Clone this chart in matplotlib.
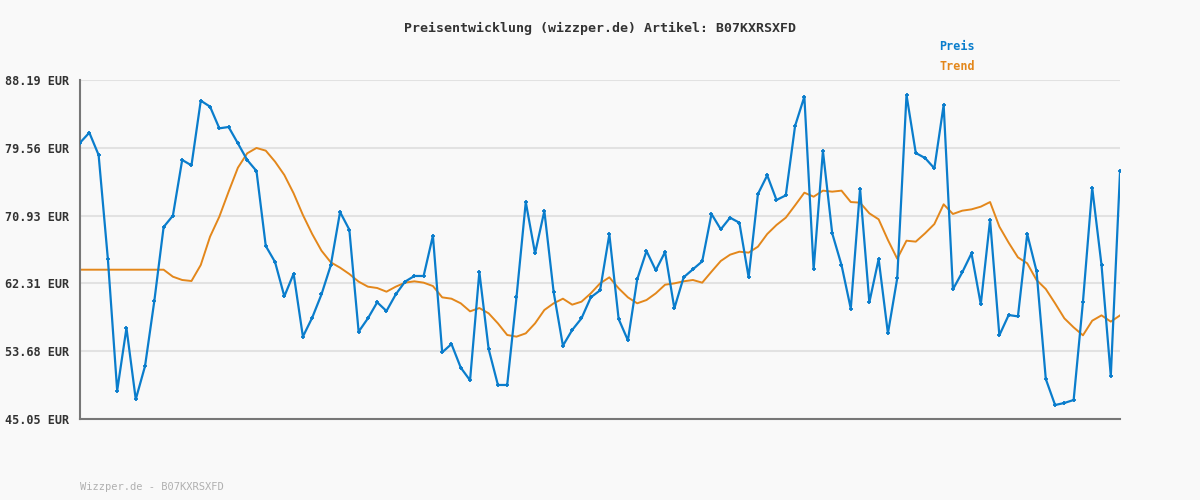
import matplotlib
matplotlib.use("Agg")
import matplotlib.pyplot as plt

# price readings (EUR), one per sample
preis = [80.21, 81.49, 78.65, 65.37, 48.66, 56.63, 47.55, 51.79, 60.07, 69.48,
         70.93, 78.01, 77.33, 85.56, 84.80, 82.04, 82.21, 80.13, 78.01, 76.61,
         67.07, 65.03, 60.66, 63.54, 55.53, 57.94, 60.91, 64.60, 71.39, 69.14,
         56.16, 57.86, 59.90, 58.79, 60.91, 62.53, 63.25, 63.25, 68.38, 53.53,
         54.59, 51.58, 49.97, 63.76, 53.96, 49.38, 49.38, 60.53, 72.66, 66.13,
         71.52, 61.21, 54.38, 56.38, 57.86, 60.53, 61.42, 68.55, 57.78, 55.06,
         62.82, 66.43, 63.97, 66.30, 59.13, 63.08, 64.10, 65.11, 71.14, 69.19,
         70.67, 70.03, 63.08, 73.68, 76.06, 72.92, 73.51, 82.34, 86.07, 64.10,
         79.15, 68.68, 64.65, 59.09, 74.36, 59.90, 65.41, 55.95, 62.95, 86.28,
         78.90, 78.26, 76.95, 85.01, 61.55, 63.71, 66.13, 59.64, 70.37, 55.70,
         58.28, 58.11, 68.59, 63.88, 50.14, 46.83, 47.09, 47.47, 59.94, 74.45,
         64.65, 50.52, 76.65]

trend = [64.05, 64.05, 64.05, 64.05, 64.05, 64.05, 64.05, 64.05, 64.05, 64.05,
         63.16, 62.74, 62.61, 64.65, 68.25, 70.80, 73.98, 77.03, 78.86, 79.54,
         79.20, 77.80, 76.10, 73.77, 71.01, 68.59, 66.47, 64.99, 64.31, 63.50,
         62.53, 61.89, 61.72, 61.25, 61.89, 62.40, 62.57, 62.40, 61.97, 60.53,
         60.36, 59.77, 58.75, 59.17, 58.50, 57.22, 55.74, 55.53, 55.95, 57.22,
         58.92, 59.77, 60.36, 59.60, 59.98, 61.04, 62.31, 63.08, 61.68, 60.53,
         59.77, 60.19, 61.04, 62.14, 62.31, 62.57, 62.74, 62.40, 63.80, 65.16,
         65.96, 66.34, 66.22, 66.98, 68.59, 69.74, 70.67, 72.24, 73.85, 73.34,
         74.11, 73.98, 74.11, 72.66, 72.58, 71.22, 70.46, 67.83, 65.45, 67.74,
         67.62, 68.68, 69.86, 72.37, 71.14, 71.56, 71.73, 72.07, 72.66, 69.53,
         67.49, 65.62, 64.86, 62.74, 61.59, 59.77, 57.86, 56.71, 55.70, 57.56,
         58.24, 57.44, 58.24]

yticks = [45.05, 53.68, 62.31, 70.93, 79.56, 88.19]

plt.rcParams["font.family"] = ["DejaVu Sans Mono"]
bg = "#f9f9f9"
blue = "#0a7dcc"
orange = "#e3871b"

fig = plt.figure(figsize=(12, 5), dpi=100, facecolor=bg)
ax = fig.add_axes([0.0667, 0.162, 0.8667, 0.678], facecolor=bg)

x = range(len(preis))
ax.plot(x, trend, color=orange, lw=1.4, zorder=2)
ax.plot(x, preis, color=blue, lw=1.6, marker="+", ms=3.5, mew=1.3, zorder=3)

ax.set_xlim(0, len(preis) - 1)
ax.set_ylim(yticks[0], yticks[-1])
ax.set_yticks(yticks)
ax.set_yticklabels([f"{v:.2f} EUR" for v in yticks], fontsize=8.5,
                   color="#333333", fontweight="bold")
ax.set_xticks([])
ax.tick_params(axis="y", length=0, pad=8)
ax.grid(axis="y", color="#e2e2e2", lw=1.5)
ax.set_axisbelow(True)
for s in ("top", "right"):
    ax.spines[s].set_visible(False)
for s in ("left", "bottom"):
    ax.spines[s].set_color("#777777")
    ax.spines[s].set_linewidth(1.5)

fig.text(0.5, 0.944, "Preisentwicklung (wizzper.de) Artikel: B07KXRSXFD",
         ha="center", va="center", fontsize=9.5, color="#333333", fontweight="bold")
fig.text(0.7825, 0.907, "Preis", color=blue, fontsize=8.5, fontweight="bold", va="center")
fig.text(0.7825, 0.866, "Trend", color=orange, fontsize=8.5, fontweight="bold", va="center")
fig.text(0.0667, 0.026, "Wizzper.de - B07KXRSXFD", color="#b0b0b0", fontsize=7.5, va="center")

fig.savefig("out.png", dpi=100, facecolor=bg)
